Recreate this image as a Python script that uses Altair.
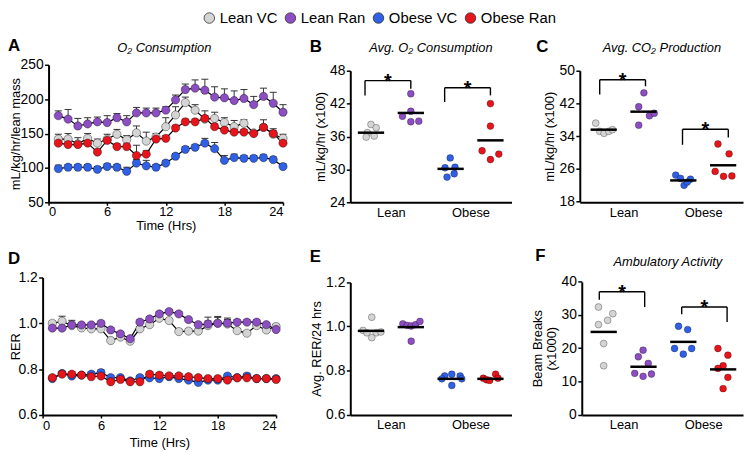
import altair as alt
import pandas as pd

FONT = "Liberation Sans"

groups = ["Lean VC", "Lean Ran", "Obese VC", "Obese Ran"]
fills = ["#d4d4d4", "#8c4ec2", "#2f60e6", "#e8141b"]
group_pos = [0.5, 1.5, 2.5, 3.5]
cat_labels = ["Lean", "Obese"]
cat_pos = [1, 3]
hours = list(range(1, 25))

# ---------- A: O2 consumption ----------
o2_lean_vc = [142, 142, 135, 143, 136, 142, 149, 141, 151, 139, 145, 160, 177, 195, 184, 171, 172, 166, 160, 165, 151, 159, 149, 143]
o2_lean_ran = [176, 171, 161, 164, 167, 166, 173, 167, 180, 180, 180, 184, 199, 214, 216, 213, 203, 202, 198, 201, 192, 204, 194, 181]
o2_obese_vc = [99, 101, 101, 101, 98, 102, 101, 95, 107, 103, 101, 107, 117, 127, 130, 136, 128, 111, 115, 114, 114, 115, 112, 102]
o2_obese_ran = [136, 134, 134, 136, 123, 140, 131, 131, 118, 120, 142, 143, 158, 167, 167, 172, 160, 155, 152, 152, 150, 159, 150, 136]
o2_err_lean_vc = [7, 8, 9, 7, 6, 7, 7, 6, 10, 13, 5, 13, 12, 8, 8, 12, 9, 7, 9, 5, 3, 11, 8, 6]
o2_err_lean_ran = [7, 14, 11, 9, 7, 10, 6, 9, 8, 7, 7, 5, 7, 8, 12, 16, 15, 13, 14, 13, 12, 12, 16, 11]
o2_err_obese_vc = [5, 4, 4, 4, 4, 4, 4, 6, 5, 8, 4, 4, 4, 4, 4, 7, 9, 7, 5, 4, 4, 4, 4, 4]
o2_err_obese_ran = [4, 4, 4, 4, 4, 4, 4, 4, 15, 5, 4, 4, 4, 4, 4, 4, 4, 4, 4, 4, 4, 4, 4, 4]

# ---------- D: RER ----------
rer_lean_vc = [1.0, 1.009, 0.99, 0.98, 0.976, 0.976, 0.925, 0.94, 0.922, 0.976, 0.994, 1.022, 1.012, 0.964, 0.966, 0.966, 0.99, 1.001, 0.997, 0.968, 0.957, 0.99, 0.971, 0.986]
rer_lean_ran = [0.979, 0.979, 0.993, 0.993, 0.993, 1.0, 0.971, 0.954, 0.933, 1.005, 1.019, 1.041, 1.051, 1.041, 1.016, 0.994, 0.997, 1.0, 1.001, 1.005, 1.005, 1.005, 0.994, 0.973]
rer_obese_vc = [0.759, 0.781, 0.77, 0.774, 0.778, 0.785, 0.763, 0.763, 0.749, 0.763, 0.762, 0.759, 0.767, 0.759, 0.752, 0.742, 0.752, 0.752, 0.77, 0.763, 0.77, 0.759, 0.759, 0.759]
rer_obese_ran = [0.763, 0.778, 0.778, 0.774, 0.767, 0.77, 0.745, 0.755, 0.745, 0.745, 0.778, 0.774, 0.771, 0.771, 0.767, 0.763, 0.759, 0.759, 0.752, 0.762, 0.762, 0.759, 0.759, 0.755]
rer_err_lean_vc = [0.01, 0.022, 0.015, 0.01, 0.01, 0.01, 0.01, 0.01, 0.01, 0.01, 0.01, 0.01, 0.01, 0.01, 0.01, 0.01, 0.02, 0.025, 0.02, 0.01, 0.01, 0.01, 0.01, 0.01]
rer_err_lean_ran = [0.025, 0.03, 0.02, 0.01, 0.01, 0.01, 0.01, 0.01, 0.01, 0.01, 0.01, 0.01, 0.01, 0.01, 0.01, 0.01, 0.03, 0.03, 0.022, 0.01, 0.01, 0.01, 0.01, 0.02]
rer_err_obese_vc = [0.01, 0.01, 0.01, 0.01, 0.01, 0.012, 0.01, 0.01, 0.01, 0.01, 0.01, 0.01, 0.01, 0.01, 0.01, 0.01, 0.01, 0.01, 0.01, 0.01, 0.012, 0.01, 0.01, 0.01]
rer_err_obese_ran = [0.01, 0.01, 0.01, 0.01, 0.01, 0.01, 0.01, 0.01, 0.01, 0.018, 0.01, 0.01, 0.01, 0.01, 0.01, 0.01, 0.01, 0.01, 0.01, 0.01, 0.01, 0.01, 0.01, 0.01]

# ---------- B: Avg O2 consumption (x100) ----------
b_lean_vc = [38.2, 37.6, 36.7, 35.9, 36.1]
b_lean_ran = [43.8, 40.6, 39.7, 38.7, 38.8]
b_obese_vc = [32.1, 30.3, 30.4, 28.6, 29.2]
b_obese_ran = [42.0, 37.9, 33.4, 32.8, 31.8]
b_off_lean_vc = [0.0, 0.13, -0.09, -0.12, 0.08]
b_off_lean_ran = [0.0, 0.0, -0.21, 0.0, 0.2]
b_off_obese_vc = [-0.01, -0.14, 0.11, -0.09, 0.09]
b_off_obese_ran = [0.0, 0.0, -0.21, 0.21, 0.0]
b_means = [36.7, 40.3, 30.1, 35.3]
b_brackets = [[0.35, 1.5, 46.2, 43.5, 44.7], [2.35, 3.5, 44.9, 42.3, 43.5]]

# ---------- C: Avg CO2 production (x100) ----------
c_lean_vc = [37.2, 35.2, 34.7, 35.2, 35.6]
c_lean_ran = [44.6, 41.2, 39.0, 39.6, 36.7]
c_obese_vc = [24.5, 23.7, 23.5, 22.0, 22.8]
c_obese_ran = [32.1, 29.7, 25.4, 24.2, 24.3]
c_off_lean_vc = [-0.2, -0.1, 0.01, 0.13, 0.22]
c_off_lean_ran = [0.01, -0.12, 0.15, 0.27, -0.12]
c_off_obese_vc = [-0.19, -0.07, 0.18, 0.02, 0.1]
c_off_obese_ran = [-0.13, 0.15, -0.2, 0.01, 0.22]
c_means = [35.6, 40.0, 23.2, 26.9]
c_brackets = [[0.4, 1.55, 47.8, 44.2, 46.2], [2.48, 3.63, 35.7, 31.9, 33.7]]

# ---------- E: Avg RER / 24 hrs ----------
e_lean_vc = [1.042, 0.982, 0.971, 0.971, 0.975, 0.949]
e_lean_ran = [1.012, 1.005, 1.002, 1.008, 1.023, 0.933]
e_obese_vc = [0.775, 0.783, 0.775, 0.762, 0.762, 0.732]
e_obese_ran = [0.765, 0.758, 0.755, 0.783, 0.765]
e_off_lean_vc = [0.02, -0.2, -0.1, 0.13, 0.25, 0.02]
e_off_lean_ran = [-0.2, -0.09, 0.01, 0.12, 0.23, 0.01]
e_off_obese_vc = [-0.15, 0.03, 0.24, -0.22, 0.28, 0.03]
e_off_obese_ran = [-0.18, -0.1, -0.02, 0.13, 0.19]
e_means = [0.98, 0.997, 0.762, 0.762]

# ---------- F: Ambulatory activity (x1000) ----------
f_lean_vc = [32.4, 30.4, 28.4, 27.1, 21.4, 14.7]
f_lean_ran = [19.4, 17.4, 15.4, 12.4, 11.5, 12.2]
f_obese_vc = [26.6, 25.6, 19.9, 18.2, 19.9]
f_obese_ran = [19.9, 17.9, 14.7, 13.9, 11.2, 7.8]
f_off_lean_vc = [-0.13, 0.23, 0.1, -0.13, 0.0, 0.0]
f_off_lean_ran = [-0.01, -0.13, 0.12, -0.22, -0.01, 0.2]
f_off_obese_vc = [-0.12, 0.11, -0.22, 0.0, 0.21]
f_off_obese_ran = [-0.13, 0.12, 0.0, -0.13, 0.12, 0.0]
f_means = [24.9, 14.4, 21.9, 13.6]
f_brackets = [[0.39, 1.53, 37.0, 34.6, 32.4], [2.46, 3.6, 32.4, 30.2, 27.9]]

LEGEND = alt.Legend(
    orient="none", legendX=155, legendY=-55, direction="horizontal", title=None,
    labelFont=FONT, labelFontSize=15, labelColor="black", labelOffset=3,
    columnPadding=5, symbolType="circle", symbolSize=113,
    symbolStrokeColor="#333", symbolStrokeWidth=0.8, padding=0,
)
COLOR = alt.Color("group:N", scale=alt.Scale(domain=groups, range=fills), legend=LEGEND)


def text_layer(text, lx, ly, size, weight="normal", style="normal", align="left"):
    return alt.Chart(pd.DataFrame({"t": [text]})).mark_text(
        align=align, baseline="alphabetic", font=FONT, fontSize=size, fontWeight=weight,
        fontStyle=style, color="black"
    ).encode(text="t:N", x=alt.value(lx), y=alt.value(ly))


def title_layer(text, cx, ly):
    return text_layer(text, cx, ly, 13, style="italic", align="center")


def time_panel(series, errs, ydom, yticks, yfmt, ytitle, xrange, yoff, ytpad,
               letter, lxy, width, xlpad, xtpad, title=None):
    rows = []
    for g, vals, es in zip(groups, series, errs):
        for h, v, e in zip(hours, vals, es):
            rows.append({"group": g, "hour": h, "value": v, "top": v + e})
    df = pd.DataFrame(rows)
    xs = alt.Scale(domain=[0, 24], range=xrange)
    ys = alt.Scale(domain=ydom)
    xax = alt.Axis(values=[0, 6, 12, 18, 24], title="Time (Hrs)", labelFontSize=13,
                   tickSize=3, labelPadding=xlpad, titlePadding=xtpad)
    yax = alt.Axis(values=yticks, format=yfmt, title=ytitle, offset=yoff, titlePadding=ytpad)

    def X(f):
        return alt.X(f, type="quantitative", scale=xs, axis=xax)

    def Y(f):
        return alt.Y(f, type="quantitative", scale=ys, axis=yax)

    base = alt.Chart(df)
    bars = base.mark_rule(color="#333", strokeWidth=1).encode(x=X("hour"), y=Y("value"), y2="top")
    caps = base.transform_calculate(c1="datum.hour - 0.36", c2="datum.hour + 0.36").mark_rule(
        color="#333", strokeWidth=1).encode(x=X("c1"), x2="c2", y=Y("top"))
    line = base.mark_line(color="black", strokeWidth=1.2).encode(
        x=X("hour"), y=Y("value"), detail="group:N")
    pts = base.mark_circle(size=70, opacity=1, stroke="black", strokeWidth=0.7,
                           strokeOpacity=0.55).encode(x=X("hour"), y=Y("value"), color=COLOR)
    layers = [bars, caps, line, pts, text_layer(letter, lxy[0], lxy[1], 17, weight="bold")]
    if title:
        layers.append(title_layer(*title))
    return alt.layer(*layers).properties(width=width, height=139)


def scatter_panel(series, offs, means, ydom, yticks, yfmt, ytitle, yrange, xdom, xrange,
                  yoff, letter, lxy, width, brackets=None, title=None):
    rows = []
    for g, p, vals, os_ in zip(groups, group_pos, series, offs):
        for v, o in zip(vals, os_):
            rows.append({"group": g, "x": p + o, "value": v})
    df = pd.DataFrame(rows)
    mdf = pd.DataFrame({"group": groups, "pos": group_pos, "mean": means})
    xs = alt.Scale(domain=xdom, range=xrange)
    ys = alt.Scale(domain=ydom, range=yrange)
    lab_expr = " : ".join(
        f"datum.value == {p} ? '{l}'" for p, l in zip(cat_pos[:-1], cat_labels[:-1])
    ) + f" : '{cat_labels[-1]}'"
    xax = alt.Axis(values=cat_pos, labelExpr=lab_expr, ticks=False, title=None,
                   labelFontSize=13, labelPadding=4)
    yax = alt.Axis(values=yticks, format=yfmt, title=ytitle, offset=yoff, titlePadding=2)

    def X(f):
        return alt.X(f, type="quantitative", scale=xs, axis=xax)

    def Y(f):
        return alt.Y(f, type="quantitative", scale=ys, axis=yax)

    pts = alt.Chart(df).mark_circle(size=48, opacity=1, stroke="black", strokeWidth=0.6,
                                    strokeOpacity=0.5).encode(x=X("x"), y=Y("value"), color=COLOR)
    mean = alt.Chart(mdf).transform_calculate(
        m1="datum.pos - 0.33", m2="datum.pos + 0.33").mark_rule(
        color="black", strokeWidth=2.5).encode(x=X("m1"), x2="m2", y=Y("mean"))
    layers = [pts, mean]
    if brackets:
        bdf = pd.DataFrame(brackets, columns=["xl", "xr", "yt", "yl", "yr"])
        bb = alt.Chart(bdf)
        layers += [
            bb.mark_rule(color="black", strokeWidth=1.4).encode(x=X("xl"), x2="xr", y=Y("yt")),
            bb.mark_rule(color="black", strokeWidth=1.4).encode(x=X("xl"), y=Y("yt"), y2="yl"),
            bb.mark_rule(color="black", strokeWidth=1.4).encode(x=X("xr"), y=Y("yt"), y2="yr"),
            bb.transform_calculate(xm="(datum.xl + datum.xr) / 2", star="'*'").mark_text(
                font=FONT, fontSize=20, fontWeight="bold", color="black", baseline="alphabetic",
                dy=7).encode(x=X("xm"), y=Y("yt"), text="star:N"),
        ]
    layers.append(text_layer(letter, lxy[0], lxy[1], 17, weight="bold"))
    if title:
        layers.append(title_layer(*title))
    return alt.layer(*layers).properties(width=width, height=139)


A = time_panel([o2_lean_vc, o2_lean_ran, o2_obese_vc, o2_obese_ran],
               [o2_err_lean_vc, o2_err_lean_ran, o2_err_obese_vc, o2_err_obese_ran],
               [50, 250], [50, 100, 150, 200, 250], "d", "mL/kg/hr/lean mass",
               [0, 237], 0, -2, "A", (-41, -14), 237, 0, 2,
               title=("O₂ Consumption", 117, -12.6))
D = time_panel([rer_lean_vc, rer_lean_ran, rer_obese_vc, rer_obese_ran],
               [rer_err_lean_vc, rer_err_lean_ran, rer_err_obese_vc, rer_err_obese_ran],
               [0.6, 1.2], [0.6, 0.8, 1.0, 1.2], ".1f", "RER",
               [-6, 230], 6, -4.5, "D", (-41, -14), 237, 2, 4)
B = scatter_panel([b_lean_vc, b_lean_ran, b_obese_vc, b_obese_ran],
                  [b_off_lean_vc, b_off_lean_ran, b_off_obese_vc, b_off_obese_ran], b_means,
                  [24, 48], [24, 30, 36, 42, 48], "d", "mL/kg/hr (x100)", [139, 6],
                  [-0.02, 4.03], [0, 163], 0, "B", (-41, -13), 166, brackets=b_brackets,
                  title=("Avg. O₂ Consumption", 81.5, -12.6))
C = scatter_panel([c_lean_vc, c_lean_ran, c_obese_vc, c_obese_ran],
                  [c_off_lean_vc, c_off_lean_ran, c_off_obese_vc, c_off_obese_ran], c_means,
                  [18, 50], [18, 26, 34, 42, 50], "d", "mL/kg/hr (x100)", [138.4, 6],
                  [-0.1, 4.0], [-2, 163], 2, "C", (-46, -13), 163, brackets=c_brackets,
                  title=("Avg. CO₂ Production", 81, -12.6))
E = scatter_panel([e_lean_vc, e_lean_ran, e_obese_vc, e_obese_ran],
                  [e_off_lean_vc, e_off_lean_ran, e_off_obese_vc, e_off_obese_ran], e_means,
                  [0.6, 1.2], [0.6, 0.8, 1.0, 1.2], ".1f", "Avg. RER/24 hrs", [138.5, 5],
                  [-0.02, 4.03], [0, 163], 0, "E", (-41, -16), 166)
F = scatter_panel([f_lean_vc, f_lean_ran, f_obese_vc, f_obese_ran],
                  [f_off_lean_vc, f_off_lean_ran, f_off_obese_vc, f_off_obese_ran], f_means,
                  [0, 40], [0, 10, 20, 30, 40], "d", ["Beam Breaks", "(x1000)"], [138.5, 4.4],
                  [-0.05, 4.0], [0, 163], 0, "F", (-47, -16.6), 163, brackets=f_brackets,
                  title=("Ambulatory Activity", 87, -11.3))

chart = alt.concat(
    A, B, C, D, E, F, columns=3, spacing={"row": 76, "column": 68}, bounds="flush"
).resolve_scale(color="shared").resolve_legend(color="shared").properties(
    padding=0
).configure(font=FONT).configure_view(stroke=None).configure_axis(
    domainColor="black", domainWidth=2, tickColor="black", tickWidth=1.5, tickSize=4,
    labelColor="black", labelFont=FONT, labelFontSize=14, labelPadding=1.5,
    titleColor="black", titleFont=FONT, titleFontSize=13, titleFontWeight="normal",
    grid=False,
)

chart.save("out.html", embed_options={"renderer": "svg", "actions": False})
